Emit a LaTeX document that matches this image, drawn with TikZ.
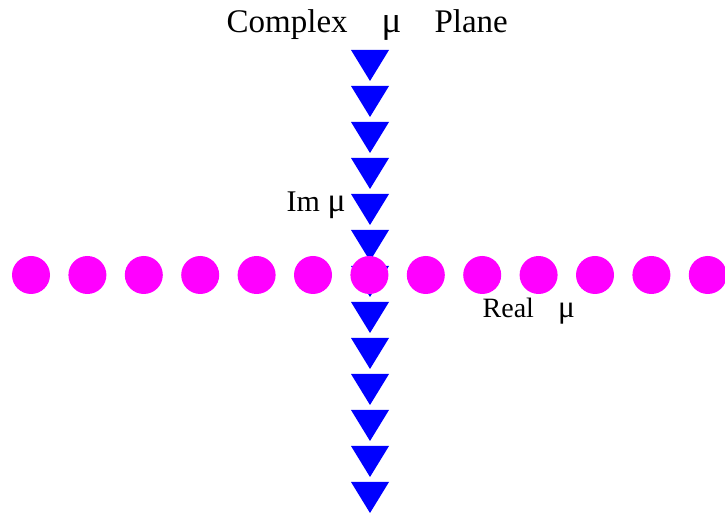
\documentclass[tikz,border=0pt]{standalone}
\usepackage{fontspec}
\setmainfont{Liberation Serif}
\definecolor{dotmag}{RGB}{255,0,255}
\definecolor{triblue}{RGB}{0,0,255}
\newcommand{\bigmu}{\scalebox{1.12}{μ}}
\tikzset{
  dotmark/.style={fill=dotmag},
  trimark/.style={fill=triblue},
  lbl/.style={anchor=base west, inner sep=0pt, text=black}
}
\begin{document}
\begin{tikzpicture}[x=1pt,y=1pt]
\useasboundingbox (0,0) rectangle (725,513);
% imaginary axis: downward triangles
\foreach \k in {0,...,12}{
  \fill[trimark] (351,{463-36*\k}) -- (389,{463-36*\k}) -- (370,{432-36*\k}) -- cycle;
}
% real axis: circles
\foreach \k in {0,...,12}{
  \fill[dotmark] ({31+56.4*\k},238) circle (19);
}
\node[lbl] (title) at (226.5,480) {\fontsize{33}{40}\selectfont Complex\hspace{34pt}\bigmu\hspace{33pt}Plane};
\node[lbl] (im) at (286.5,301) {\fontsize{30}{36}\selectfont Im \bigmu};
\node[lbl] (re) at (482.5,195) {\fontsize{28}{34}\selectfont Real\hspace{24pt}\bigmu};
\end{tikzpicture}
\end{document}
